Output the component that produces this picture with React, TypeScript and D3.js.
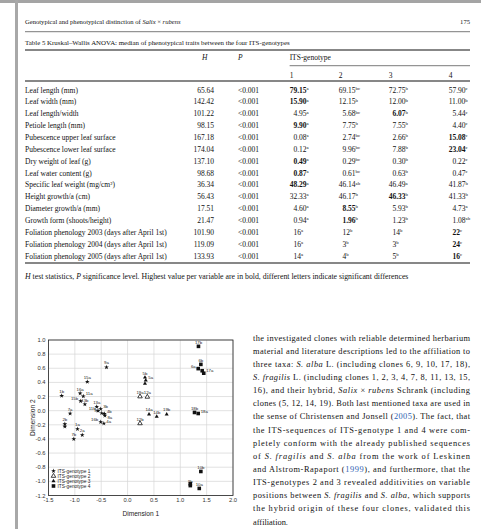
import React from "react";
import * as d3 from "d3";

// ---------- Table data ----------
const traitNames = [
  "Leaf length (mm)", "Leaf width (mm)", "Leaf length/width", "Petiole length (mm)",
  "Pubescence upper leaf surface", "Pubescence lower leaf surface", "Dry weight of leaf (g)",
  "Leaf water content (g)", "Specific leaf weight (mg/cm²)", "Height growth/a (cm)",
  "Diameter growth/a (mm)", "Growth form (shoots/height)",
  "Foliation phenology 2003 (days after April 1st)",
  "Foliation phenology 2004 (days after April 1st)",
  "Foliation phenology 2005 (days after April 1st)",
];
const hStats = ["65.64", "142.42", "101.22", "98.15", "167.18", "174.04", "137.10", "98.68", "36.34", "56.43", "17.51", "21.47", "101.90", "119.09", "133.93"];
const pLevels = ["<0.001", "<0.001", "<0.001", "<0.001", "<0.001", "<0.001", "<0.001", "<0.001", "<0.001", "<0.001", "<0.001", "<0.001", "<0.001", "<0.001", "<0.001"];
const geno1 = ["79.15", "15.90", "4.95", "9.90", "0.08", "0.12", "0.49", "0.87", "48.29", "32.33", "4.60", "0.94", "16", "16", "14"];
const geno1Sup = ["a", "a", "a", "a", "a", "a", "a", "a", "a", "a", "a", "a", "a", "a", "a"];
const geno2 = ["69.15", "12.15", "5.68", "7.75", "2.74", "9.96", "0.29", "0.61", "46.14", "46.17", "8.55", "1.96", "12", "3", "4"];
const geno2Sup = ["bc", "b", "bc", "b", "bc", "bc", "bc", "bc", "ab", "b", "b", "b", "b", "b", "b"];
const geno3 = ["72.75", "12.00", "6.07", "7.55", "2.66", "7.88", "0.30", "0.63", "46.49", "46.33", "5.93", "1.23", "14", "3", "5"];
const geno3Sup = ["b", "b", "b", "b", "b", "b", "b", "b", "a", "b", "b", "b", "b", "b", "b"];
const geno4 = ["57.90", "11.00", "5.44", "4.40", "15.08", "23.04", "0.22", "0.47", "41.87", "41.33", "4.73", "1.08", "22", "24", "16"];
const geno4Sup = ["c", "b", "c", "c", "c", "c", "c", "c", "b", "b", "a", "ab", "c", "c", "c"];
const genotypeHeaders = ["1", "2", "3", "4"];

// ---------- Scatter data (MDS) ----------
const pointLabels = [
  "9a", "15a", "1b", "16a", "11a", "15b", "13b", "7a", "13a", "11b", "3b", "8b", "4b", "8a", "16b", "4a", "2b", "", "1a", "2a", "7b",
  "5b", "5a", "", "19a", "12a", "14a", "14b", "19b", "12b",
  "17b", "6b", "6a", "", "17a", "18b", "18a", "10b", "9b", "", "10a",
];
const dim1 = [
  -0.40, -0.764, -1.25, -0.90, -0.84, -0.89, -0.81, -1.09, -0.585, -0.56, -0.51, -0.49, -0.44, -0.43, -0.51, -0.45, -1.19, -1.19, -0.95, -0.86, -1.02,
  0.33, 0.345, 0.33, 0.236, 0.375, 0.407, 0.553, 0.742, 0.236,
  1.345, 1.39, 1.34, 1.415, 1.445, 1.27, 1.34, 1.39, 1.19, 1.19, 1.36,
];
const dim2 = [
  0.615, 0.41, 0.21, 0.245, 0.205, 0.135, 0.09, -0.04, 0.055, 0.0, 0.025, -0.035, -0.045, -0.07, -0.16, -0.18, -0.19, -0.225, -0.26, -0.345, -0.40,
  0.47, 0.43, 0.385, 0.2, 0.195, -0.05, -0.085, -0.05, -0.18,
  0.91, 0.655, 0.595, 0.565, 0.53, -0.025, -0.04, -0.86, -1.06, -1.035, -1.10,
];
const genotype = [
  1, 1, 1, 1, 1, 1, 1, 1, 1, 1, 1, 1, 1, 1, 1, 1, 1, 1, 1, 1, 1,
  3, 3, 3, 2, 2, 3, 3, 3, 2,
  4, 4, 4, 4, 4, 4, 4, 4, 4, 4, 4,
];
// label placement: 0 above, 1 right, 2 left, 3 right-below
const labelPos = [
  0, 0, 0, 0, 1, 2, 0, 0, 0, 2, 1, 2, 1, 3, 2, 1, 0, 0, 0, 0, 0,
  0, 1, 0, 0, 0, 0, 0, 0, 0,
  0, 0, 2, 0, 1, 0, 1, 0, 0, 0, 0,
];
const legendNames = ["ITS-genotype 1", "ITS-genotype 2", "ITS-genotype 3", "ITS-genotype 4"];
const xTicks = [-1.5, -1.0, -0.5, 0.0, 0.5, 1.0, 1.5, 2.0];
const yTicks = [-1.2, -1.0, -0.8, -0.6, -0.4, -0.2, 0.0, 0.2, 0.4, 0.6, 0.8, 1.0];

// ---------- Text paragraphs ----------
type Seg = [string, string];
const paragraph: Seg[][] = [
  [["the investigated clones with reliable determined herbarium", ""]],
  [["material and literature descriptions led to the affiliation to", ""]],
  [["three taxa: ", ""], ["S. alba", "i"], [" L. (including clones 6, 9, 10, 17, 18),", ""]],
  [["S. fragilis", "i"], [" L. (including clones 1, 2, 3, 4, 7, 8, 11, 13, 15,", ""]],
  [["16), and their hybrid, ", ""], ["Salix", "i"], [" × ", ""], ["rubens", "i"], [" Schrank (including", ""]],
  [["clones (5, 12, 14, 19). Both last mentioned taxa are used in", ""]],
  [["the sense of Christensen and Jonsell (", ""], ["2005", "l"], ["). The fact, that", ""]],
  [["the ITS-sequences of ITS-genotype 1 and 4 were com-", ""]],
  [["pletely conform with the already published sequences", ""]],
  [["of ", ""], ["S. fragilis", "i"], [" and ", ""], ["S. alba", "i"], [" from the work of Leskinen", ""]],
  [["and Alstrom-Rapaport (", ""], ["1999", "l"], ["), and furthermore, that the", ""]],
  [["ITS-genotypes 2 and 3 revealed additivities on variable", ""]],
  [["positions between ", ""], ["S. fragilis", "i"], [" and ", ""], ["S. alba", "i"], [", which supports", ""]],
  [["the hybrid origin of these four clones, validated this", ""]],
  [["affiliation.", ""]],
];

const SERIF = "'Liberation Serif', 'Times New Roman', serif";
const SANS = "'Liberation Sans', Arial, sans-serif";

function segSpans(segs: Seg[]) {
  return segs.map((s, i) => (
    <tspan key={i} fontStyle={s[1] === "i" ? "italic" : "normal"} fill={s[1] === "l" ? "#2f5fb3" : "#111"}>
      {s[0]}
    </tspan>
  ));
}

export default function App() {
  const W = 481, H = 529;
  const fs = 7.5; // table body font size
  const left = 25, right = 470;
  const rowY0 = 90, rowStep = 11.85;
  const colRight = [306.5, 355.5, 405.5, 465.5];
  const genoCols = [geno1, geno2, geno3, geno4];
  const genoSups = [geno1Sup, geno2Sup, geno3Sup, geno4Sup];

  const cellText = (v: string, sup: string, rEdge: number, yy: number, bold: boolean, key: string) => {
    let start: number;
    if (v.includes(".")) {
      const w = (v.length - 1) * 0.5 * fs + 0.25 * fs;
      start = rEdge - w;
    } else {
      start = rEdge - 1.75 * fs - (v.length - 1) * 0.5 * fs + (v.length > 1 ? 0.5 * fs : 0);
    }
    return (
      <text key={key} x={start} y={yy} fontSize={fs} fontWeight={bold ? "bold" : "normal"}>
        {v}
        <tspan fontSize={4.8} dy={-2.8} fontWeight="normal">{sup}</tspan>
      </text>
    );
  };

  // scatter scales
  const x = d3.scaleLinear().domain([-1.5, 2.0]).range([48.5, 233]);
  const y = d3.scaleLinear().domain([-1.2, 1.0]).range([495.5, 340]);
  const sym = (g: number) => {
    if (g === 1) return d3.symbol(d3.symbolStar, 7)() as string;
    if (g === 2) return d3.symbol(d3.symbolTriangle, 9)() as string;
    if (g === 3) return d3.symbol(d3.symbolTriangle, 7)() as string;
    return d3.symbol(d3.symbolSquare, 13)() as string;
  };
  const symStyle = (g: number) =>
    g === 2 ? { fill: "#fff", stroke: "#111", strokeWidth: 0.8 } : { fill: "#111", stroke: "none", strokeWidth: 0 };

  const paraX = 253, paraW = 217, paraY0 = 340.5, paraStep = 13.15;
  const g1Start = colRight[0] - 2.25 * fs;

  return (
    <svg width={W} height={H} viewBox={`0 0 ${W} ${H}`} style={{ position: "absolute", left: 0, top: 0, background: "#fff" }}>
      <rect x={0} y={0} width={W} height={H} fill="#fff" />
      {/* viewer frame */}
      <rect x={0} y={0} width={W} height={3} fill="#a4a4a4" />
      <rect x={15} y={0} width={3} height={H} fill="#a8a8a8" />

      <g fontFamily={SERIF} fill="#111">
        {/* running header */}
        <text x={left} y={24} fontSize={6.6}>
          Genotypical and phenotypical distinction of <tspan fontStyle="italic">Salix</tspan> × <tspan fontStyle="italic">rubens</tspan>
        </text>
        <text x={right} y={24} fontSize={6.6} textAnchor="end">175</text>
        <line x1={left} x2={right} y1={31.7} y2={31.7} stroke="#222" strokeWidth={0.6} />

        {/* caption */}
        <text x={left} y={44.8} fontSize={6.9}>Table 5  Kruskal–Wallis ANOVA: median of phenotypical traits between the four ITS-genotypes</text>
        <line x1={left} x2={right} y1={50} y2={50} stroke="#111" strokeWidth={1.1} />

        {/* column headers */}
        <text x={202} y={60.3} fontSize={fs} fontStyle="italic">H</text>
        <text x={238} y={60.3} fontSize={fs} fontStyle="italic">P</text>
        <text x={g1Start} y={60.3} fontSize={fs}>ITS-genotype</text>
        <line x1={g1Start} x2={right} y1={65.7} y2={65.7} stroke="#222" strokeWidth={0.6} />
        {genotypeHeaders.map((g, i) => (
          <text key={g} x={colRight[i] - 2.25 * fs} y={77.7} fontSize={fs}>{g}</text>
        ))}
        <line x1={left} x2={right} y1={81} y2={81} stroke="#111" strokeWidth={1.1} />

        {/* rows */}
        {traitNames.map((name, r) => {
          const yy = rowY0 + r * rowStep + 2.6;
          const vals = genoCols.map((c) => parseFloat(c[r]));
          const mx = Math.max(...vals);
          return (
            <g key={name}>
              <text x={left} y={yy} fontSize={fs}>{name}</text>
              <text x={214} y={yy} fontSize={fs} textAnchor="end">{hStats[r]}</text>
              <text x={238} y={yy} fontSize={fs}>{pLevels[r]}</text>
              {genoCols.map((c, ci) =>
                cellText(c[r], genoSups[ci][r], colRight[ci], yy, vals[ci] === mx, `${r}-${ci}`)
              )}
            </g>
          );
        })}
        <line x1={left} x2={right} y1={263} y2={263} stroke="#111" strokeWidth={1.1} />
        <text x={left} y={278.8} fontSize={7.8}>
          <tspan fontStyle="italic">H</tspan> test statistics, <tspan fontStyle="italic">P</tspan> significance level. Highest value per variable are in bold, different letters indicate significant differences
        </text>

        {/* paragraph */}
        {paragraph.map((segs, i) => (
          <text
            key={i}
            x={paraX}
            y={paraY0 + i * paraStep}
            fontSize={8.4}
            {...(i < paragraph.length - 1 ? { textLength: paraW, lengthAdjust: "spacing" } : {})}
          >
            {segSpans(segs)}
          </text>
        ))}
      </g>

      {/* scatter plot */}
      <g fontFamily={SANS}>
        {xTicks.map((t) => (
          <line key={"gx" + t} x1={x(t)} x2={x(t)} y1={y(-1.2)} y2={y(1.0)} stroke="#d6d6d6" strokeWidth={0.7} />
        ))}
        {yTicks.map((t) => (
          <line key={"gy" + t} x1={x(-1.5)} x2={x(2.0)} y1={y(t)} y2={y(t)} stroke="#d6d6d6" strokeWidth={0.7} />
        ))}
        <rect x={x(-1.5)} y={y(1.0)} width={x(2.0) - x(-1.5)} height={y(-1.2) - y(1.0)} fill="none" stroke="#222" strokeWidth={0.8} />
        {xTicks.map((t) => (
          <text key={"tx" + t} x={x(t)} y={y(-1.2) + 6.3} fontSize={5.8} textAnchor="middle" fill="#333">
            {d3.format(".1f")(t).replace("−", "-")}
          </text>
        ))}
        {yTicks.map((t) => (
          <text key={"ty" + t} x={x(-1.5) - 3} y={y(t) + 2} fontSize={5.8} textAnchor="end" fill="#333">
            {d3.format(".1f")(Math.abs(t) < 1e-9 ? 0 : t).replace("−", "-")}
          </text>
        ))}
        <text x={(x(-1.5) + x(2.0)) / 2} y={515.5} fontSize={6.6} textAnchor="middle" fill="#222">Dimension 1</text>
        <text transform={`translate(35, ${(y(-1.2) + y(1.0)) / 2}) rotate(-90)`} fontSize={6.6} textAnchor="middle" fill="#222">Dimension 2</text>

        {pointLabels.map((lab, i) => {
          const px = x(dim1[i]), py = y(dim2[i]);
          const st = symStyle(genotype[i]);
          const pos = labelPos[i];
          const lx = pos === 0 ? px : pos === 2 ? px - 2.5 : px + 2.5;
          const ly = pos === 0 ? py - 2.8 : pos === 3 ? py + 3 : py - 0.8;
          return (
            <g key={i}>
              <path d={sym(genotype[i])} transform={`translate(${px},${py})`} fill={st.fill} stroke={st.stroke} strokeWidth={st.strokeWidth} />
              {lab && (
                <text x={lx} y={ly} fontSize={4.3} fill="#222" textAnchor={pos === 0 ? "middle" : pos === 2 ? "end" : "start"}>
                  {lab}
                </text>
              )}
            </g>
          );
        })}

        {/* legend */}
        {legendNames.map((n, i) => {
          const ly = 471 + i * 5;
          const st = symStyle(i + 1);
          return (
            <g key={n}>
              <path d={sym(i + 1)} transform={`translate(53.5,${ly})`} fill={st.fill} stroke={st.stroke} strokeWidth={st.strokeWidth} />
              <text x={57.5} y={ly + 1.7} fontSize={4.8} fill="#222">{n}</text>
            </g>
          );
        })}
      </g>
    </svg>
  );
}
